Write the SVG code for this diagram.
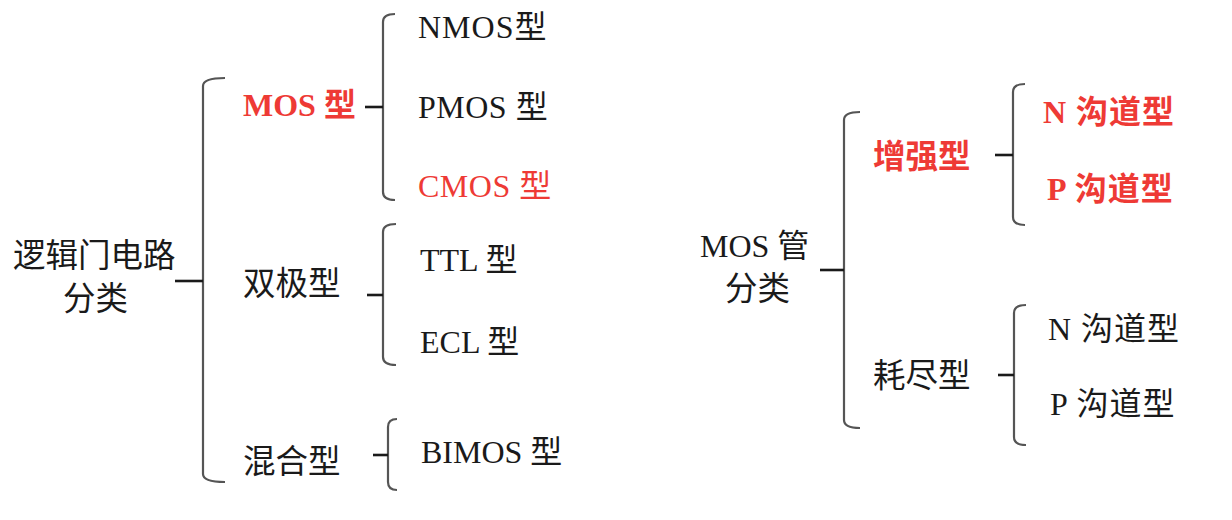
<svg xmlns="http://www.w3.org/2000/svg" width="1232" height="520" viewBox="0 0 1232 520">
<style>
text{font-family:"Liberation Serif","Noto Sans CJK SC",serif;font-size:32px;fill:#1a1a1a}
.cjk{font-family:"Noto Sans CJK SC",sans-serif;font-size:32.5px}
.red{fill:#ee3a35}
.b{font-weight:bold}
.ch{letter-spacing:1px}
.br{fill:none;stroke:#555;stroke-width:2.2}
.st{stroke:#1a1a1a;stroke-width:2.6}
</style>
<rect width="1232" height="520" fill="#fff"/>
<g id="connectors">
<path class="br" d="M225,78 Q203,78 203,86 L203,474 Q203,482 225,482"/>
<line class="st" x1="175" y1="281" x2="203" y2="281"/>
<path class="br" d="M395,14 Q383,14 383,22 L383,192 Q383,200 395,200"/>
<line class="st" x1="365" y1="107" x2="383" y2="107"/>
<path class="br" d="M396,224 Q383,224 383,232 L383,357 Q383,365 396,365"/>
<line class="st" x1="367" y1="295" x2="383" y2="295"/>
<path class="br" d="M397,419 Q388,419 388,427 L388,482 Q388,490 397,490"/>
<line class="st" x1="373" y1="455" x2="388" y2="455"/>
<path class="br" d="M860,112 Q844,112 844,120 L844,420 Q844,428 860,428"/>
<line class="st" x1="820" y1="270" x2="844" y2="270"/>
<path class="br" d="M1025,84 Q1013,84 1013,92 L1013,217 Q1013,225 1025,225"/>
<line class="st" x1="995" y1="155" x2="1013" y2="155"/>
<path class="br" d="M1026,305 Q1014,305 1014,313 L1014,437 Q1014,445 1026,445"/>
<line class="st" x1="998" y1="375" x2="1014" y2="375"/>
</g>
<g id="root-left"><text class="cjk" x="13" y="267">逻辑门电路</text><text class="cjk" x="63" y="310">分类</text></g>
<g id="mos"><text class="red b" x="243" y="116">MOS 型</text></g>
<g id="bipolar"><text class="cjk" x="243" y="295">双极型</text></g>
<g id="mixed"><text class="cjk" x="243" y="473">混合型</text></g>
<g id="nmos"><text x="418" y="38" letter-spacing="1">NMOS型</text></g>
<g id="pmos"><text x="418" y="118" letter-spacing="0.5">PMOS 型</text></g>
<g id="cmos"><text class="red" x="418" y="197" letter-spacing="0.5">CMOS 型</text></g>
<g id="ttl"><text x="420" y="271">TTL 型</text></g>
<g id="ecl"><text x="420" y="353">ECL 型</text></g>
<g id="bimos"><text x="421" y="463">BIMOS 型</text></g>
<g id="root-right"><text x="700" y="257">MOS 管</text><text class="cjk" x="725" y="300">分类</text></g>
<g id="enh"><text class="cjk red b" x="873" y="168">增强型</text></g>
<g id="dep"><text class="cjk" x="873" y="387">耗尽型</text></g>
<g id="enh-n"><text class="red b ch" x="1043" y="123">N 沟道型</text></g>
<g id="enh-p"><text class="red b ch" x="1047" y="200">P 沟道型</text></g>
<g id="dep-n"><text class="ch" x="1048" y="340">N 沟道型</text></g>
<g id="dep-p"><text class="ch" x="1050" y="415">P 沟道型</text></g>
</svg>
